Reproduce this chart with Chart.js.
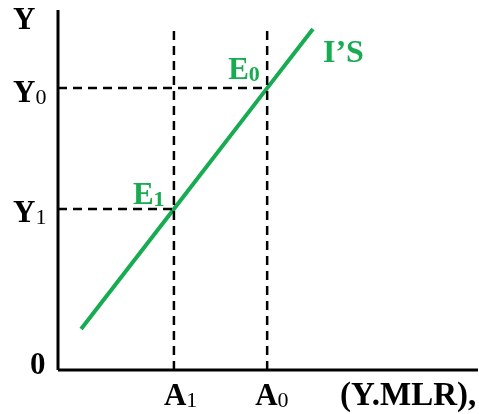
<!DOCTYPE html>
<html>
<head>
<meta charset="utf-8">
<script src="https://cdn.jsdelivr.net/npm/chart.js@4"></script>
<style>
  html, body { margin: 0; padding: 0; background: #fff; }
  #wrap { width: 479px; height: 414px; }
</style>
</head>
<body>
<div id="wrap"><canvas id="chart" width="479" height="414"></canvas></div>
<script>
// I'S schedule: start point, E1, E0, end point
const isX = [0.55, 2.76, 4.98, 6.07];
const isY = [1.14, 4.47, 7.83, 9.47];

// equilibrium levels
const aLevels = [2.76, 4.98];   // A1, A0
const yLevels = [4.47, 7.83];   // Y1, Y0
const guideTop = 9.47;

const GREEN = '#17ab52';
const FONT = '"Liberation Serif", "Times New Roman", serif';

function seg(x0, y0, x1, y1) {
    return [{ x: x0, y: y0 }, { x: x1, y: y1 }];
}

function dashed(data) {
    return {
        data: data,
        borderColor: '#000',
        borderWidth: 2.5,
        borderDash: [9, 6],
        pointRadius: 0,
        clip: false
    };
}

// label with an optional subscript
function drawLabel(ctx, main, sub, x, y, color, subWeight) {
    ctx.fillStyle = color;
    ctx.textBaseline = 'alphabetic';
    ctx.textAlign = 'left';
    ctx.font = 'bold 31px ' + FONT;
    ctx.fillText(main, x, y);
    if (sub) {
        const w = ctx.measureText(main).width;
        ctx.font = subWeight + ' 22px ' + FONT;
        ctx.fillText(sub, x + w, y + 2);
    }
}

const labelsPlugin = {
    id: 'labels',
    afterDatasetsDraw(chart) {
        const ctx = chart.ctx;
        const xs = chart.scales.x, ys = chart.scales.y;
        ctx.save();
        const y0px = ys.getPixelForValue(yLevels[1]);
        const y1px = ys.getPixelForValue(yLevels[0]);
        const a1px = xs.getPixelForValue(aLevels[0]);
        const a0px = xs.getPixelForValue(aLevels[1]);
        const base = ys.getPixelForValue(0);

        drawLabel(ctx, 'Y', '', 13, 29, '#000');
        drawLabel(ctx, 'Y', '0', 13, y0px + 14, '#000', 'normal');
        drawLabel(ctx, 'Y', '1', 13, y1px + 13, '#000', 'normal');
        drawLabel(ctx, '0', '', 30, base + 4, '#000');
        drawLabel(ctx, 'A', '1', a1px - 10, base + 35, '#000', 'normal');
        drawLabel(ctx, 'A', '0', a0px - 12, base + 35, '#000', 'normal');
        ctx.font = 'bold 33px ' + FONT;
        ctx.fillStyle = '#000';
        ctx.fillText('(Y.MLR),', 340, base + 35);

        drawLabel(ctx, 'E', '0', a0px - 39, y0px - 9, GREEN, 'bold');
        drawLabel(ctx, 'E', '1', a1px - 41, y1px - 5, GREEN, 'bold');
        ctx.font = 'bold 32px ' + FONT;
        ctx.fillStyle = GREEN;
        ctx.fillText('I\u2019S', 323, 62);
        ctx.restore();
    }
};

new Chart(document.getElementById('chart'), {
    type: 'line',
    data: {
        datasets: [
            // axes
            { data: seg(0, 0, 0, 10), borderColor: '#000', borderWidth: 3, pointRadius: 0, clip: false },
            { data: seg(0, 0, 10, 0), borderColor: '#000', borderWidth: 3, pointRadius: 0, clip: false },
            // guides
            dashed(seg(0, yLevels[1], aLevels[1], yLevels[1])),
            dashed(seg(0, yLevels[0], aLevels[0], yLevels[0])),
            dashed(seg(aLevels[0], 0, aLevels[0], guideTop)),
            dashed(seg(aLevels[1], 0, aLevels[1], guideTop)),
            // I'S line
            {
                data: isX.map((x, i) => ({ x: x, y: isY[i] })),
                borderColor: GREEN,
                borderWidth: 4,
                pointRadius: 0,
                clip: false
            }
        ]
    },
    options: {
        responsive: false,
        animation: false,
        layout: { padding: { left: 58, right: 1, top: 10, bottom: 44 } },
        plugins: { legend: { display: false }, tooltip: { enabled: false } },
        scales: {
            x: { type: 'linear', min: 0, max: 10, display: false },
            y: { type: 'linear', min: 0, max: 10, display: false }
        }
    },
    plugins: [labelsPlugin]
});
</script>
</body>
</html>
